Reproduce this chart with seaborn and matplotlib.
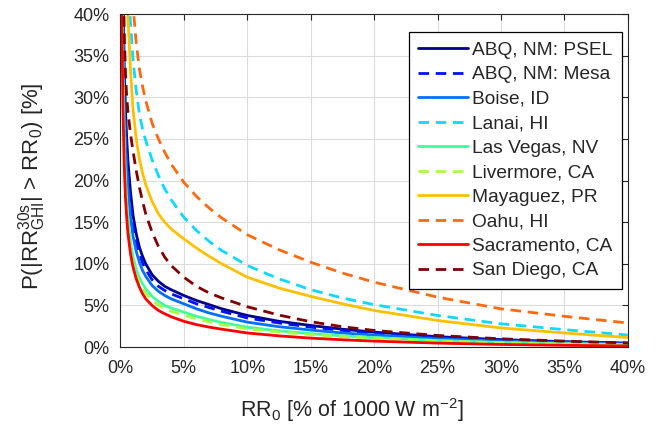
import numpy as np
import pandas as pd
import seaborn as sns
import matplotlib
matplotlib.use("Agg")
import matplotlib.pyplot as plt

rr0 = [0.1, 0.2, 0.3, 0.4, 0.5, 0.6, 0.8, 1.0, 1.25, 1.5, 1.75, 2.0, 2.5, 3.0, 3.5,
       4.0, 5.0, 6.0, 7.0, 8.0, 10, 12.5, 15, 17.5, 20, 25, 30, 35, 40]

sites = ['ABQ, NM: PSEL', 'ABQ, NM: Mesa', 'Boise, ID', 'Lanai, HI',
         'Las Vegas, NV', 'Livermore, CA', 'Mayaguez, PR', 'Oahu, HI',
         'Sacramento, CA', 'San Diego, CA']

# exceedance probability [%] for each site
abq_psel = [70, 45, 34, 28.5, 25, 22.3, 18.6, 15.8, 13.6, 12.0, 10.9, 10.0, 8.7, 7.9, 7.3,
            6.9, 6.2, 5.6, 5.1, 4.6, 3.8, 3.1, 2.6, 2.15, 1.8, 1.25, 0.9, 0.65, 0.48]
abq_mesa = [66, 42, 32, 26.5, 23.2, 20.7, 17.3, 14.7, 12.6, 11.2, 10.1, 9.3, 8.1, 7.3, 6.8,
            6.4, 5.8, 5.2, 4.75, 4.3, 3.5, 2.9, 2.4, 2.0, 1.68, 1.15, 0.83, 0.6, 0.44]
boise = [62, 39, 29.5, 24.5, 21.2, 18.8, 15.6, 13.3, 11.5, 10.2, 9.2, 8.5, 7.4, 6.7, 6.2,
         5.8, 5.2, 4.6, 4.1, 3.7, 3.0, 2.45, 2.05, 1.7, 1.45, 1.0, 0.72, 0.52, 0.38]
lanai = [130, 90, 70, 58, 50, 45, 39, 34.5, 30.8, 28.0, 26.2, 24.8, 22.5, 20.6, 19.0,
         17.7, 15.6, 14.0, 12.7, 11.6, 9.8, 8.2, 6.9, 5.9, 5.1, 3.8, 2.8, 2.1, 1.45]
las_vegas = [55, 34, 25, 20.5, 17.5, 15.4, 12.6, 10.8, 9.3, 8.3, 7.6, 7.0, 6.1, 5.5, 5.0,
             4.7, 4.2, 3.7, 3.3, 2.95, 2.4, 1.95, 1.62, 1.35, 1.15, 0.8, 0.56, 0.41, 0.3]
livermore = [52, 32, 23.5, 19.2, 16.3, 14.3, 11.7, 10.0, 8.6, 7.7, 7.0, 6.45, 5.6, 5.05, 4.6,
             4.3, 3.85, 3.4, 3.03, 2.7, 2.2, 1.8, 1.5, 1.25, 1.05, 0.73, 0.52, 0.38, 0.28]
mayaguez = [110, 75, 58, 48, 43, 39.5, 33.2, 28.6, 25.0, 22.6, 20.9, 19.5, 17.5, 16.0, 15.0,
            14.2, 13.0, 11.9, 10.9, 10.0, 8.4, 7.1, 6.1, 5.2, 4.4, 3.2, 2.3, 1.7, 1.15]
oahu = [150, 110, 85, 70, 60, 53, 45.5, 41, 36.5, 33.4, 31.3, 29.6, 26.9, 25.0, 23.4,
        22.0, 19.8, 18.1, 16.7, 15.5, 13.5, 11.7, 10.2, 8.9, 7.8, 6.0, 4.6, 3.7, 2.9]
sacramento = [42, 29, 22, 18, 15.5, 13.6, 11.2, 9.6, 8.2, 7.2, 6.4, 5.8, 5.0, 4.4, 4.0,
              3.65, 3.1, 2.7, 2.4, 2.15, 1.7, 1.35, 1.08, 0.88, 0.72, 0.48, 0.32, 0.21, 0.14]
san_diego = [80, 50, 38, 33, 30, 28.2, 25.6, 23.5, 21.2, 19.2, 17.5, 16.0, 13.8, 12.1, 10.8,
             9.8, 8.4, 7.3, 6.5, 5.9, 4.85, 3.85, 3.05, 2.45, 2.0, 1.4, 1.0, 0.72, 0.5]

values = [abq_psel, abq_mesa, boise, lanai, las_vegas, livermore,
          mayaguez, oahu, sacramento, san_diego]

colors = ['#00008C', '#0010FF', '#0070FF', '#10D8FF', '#40FFA0',
          '#A8FF40', '#FFC000', '#FF6A10', '#FF0000', '#800000']
dashed = [False, True, False, True, False, True, False, True, False, True]

rows = []
for site, vals in zip(sites, values):
    for x, y in zip(rr0, vals):
        rows.append({'RR0': x, 'P': y, 'site': site})
df = pd.DataFrame(rows)

sns.set_theme(style='white')
plt.rcParams['font.family'] = ['Liberation Sans', 'DejaVu Sans']
plt.rcParams['mathtext.fontset'] = 'custom'
plt.rcParams['mathtext.rm'] = 'Liberation Sans'
plt.rcParams['mathtext.it'] = 'Liberation Sans:italic'

dark = '#262626'
fig = plt.figure(figsize=(6.56, 4.28), dpi=100)
ax = fig.add_axes([0.1835, 0.189, 0.7735, 0.778])

palette = dict(zip(sites, colors))
dash_map = {s: ((3.8, 2.4) if d else '') for s, d in zip(sites, dashed)}
sns.lineplot(data=df, x='RR0', y='P', hue='site', style='site',
             hue_order=sites, style_order=sites, palette=palette,
             dashes=dash_map, linewidth=2.0, sort=False, ax=ax)

ax.set_xlim(0, 40)
ax.set_ylim(0, 40)
ticks = np.arange(0, 41, 5)
ax.set_xticks(ticks)
ax.set_yticks(ticks)
ax.set_xticklabels([f'{t}%' for t in ticks])
ax.set_yticklabels([f'{t}%' for t in ticks])
ax.grid(True, color='#DCDCDC', linewidth=0.8)
ax.tick_params(direction='in', length=4, width=0.8, colors=dark,
               labelsize=13, top=True, right=True)
ax.tick_params(axis='x', pad=9)
ax.tick_params(axis='y', pad=8)
for sp in ax.spines.values():
    sp.set_color(dark)
    sp.set_linewidth(0.8)

ax.set_xlabel(r'RR$_0$ [% of 1000 W m$^{-2}$]', fontsize=15.5, color=dark)
ax.xaxis.set_label_coords(0.457, -0.148)
ax.set_ylabel(r'P(|RR$_{\mathrm{GHI}}^{\mathrm{30s}}$| > RR$_0$) [%]', fontsize=16,
              color=dark)
ax.yaxis.set_label_coords(-0.142, 0.482)

leg = ax.legend(loc='upper right', bbox_to_anchor=(0.988, 0.947), borderaxespad=0,
                fontsize=13.8, frameon=True, fancybox=False, framealpha=1,
                edgecolor='black', handlelength=2.6, handletextpad=0.2,
                labelspacing=0.37, borderpad=0.5)
leg.get_frame().set_linewidth(0.9)
for t in leg.get_texts():
    t.set_color(dark)

fig.savefig('out.png', dpi=100)
